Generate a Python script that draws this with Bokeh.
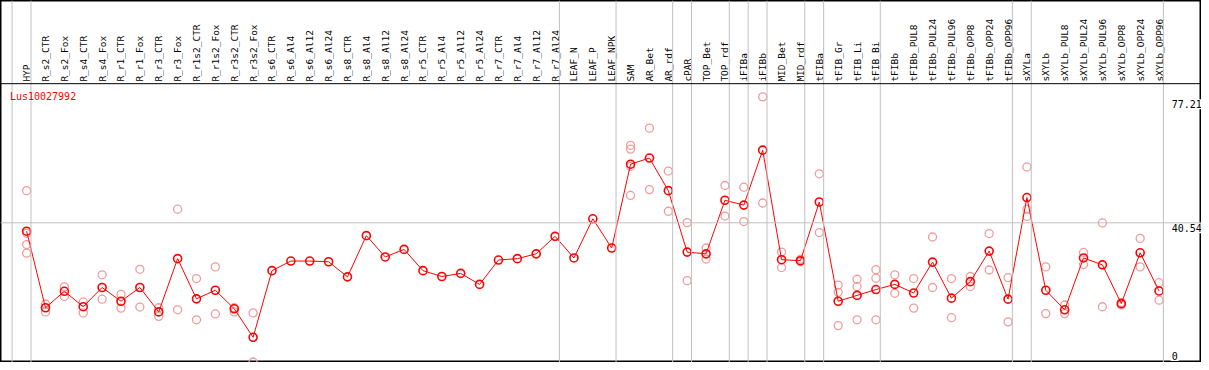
import math
from bokeh.plotting import figure
from bokeh.models import Range1d, Span, Label
from bokeh.core.properties import value
from bokeh.embed import file_html
from bokeh.resources import INLINE

gene = "Lus10027992"

categories = [
    "HYP", "R_s2_CTR", "R_s2_Fox", "R_s4_CTR", "R_s4_Fox", "R_r1_CTR", "R_r1_Fox",
    "R_r3_CTR", "R_r3_Fox", "R_r1s2_CTR", "R_r1s2_Fox", "R_r3s2_CTR", "R_r3s2_Fox",
    "R_s6_CTR", "R_s6_Al4", "R_s6_Al12", "R_s6_Al24", "R_s8_CTR", "R_s8_Al4",
    "R_s8_Al12", "R_s8_Al24", "R_r5_CTR", "R_r5_Al4", "R_r5_Al12", "R_r5_Al24",
    "R_r7_CTR", "R_r7_Al4", "R_r7_Al12", "R_r7_Al24", "LEAF_N", "LEAF_P", "LEAF_NPK",
    "SAM", "AR_Bet", "AR_rdf", "cPAR", "TOP_Bet", "TOP_rdf", "iFIBa", "iFIBb",
    "MID_Bet", "MID_rdf", "tFIBa", "tFIB_Gr", "tFIB_Li", "tFIB_Bi", "tFIBb",
    "tFIBb_PUL8", "tFIBb_PUL24", "tFIBb_PUL96", "tFIBb_OPP8", "tFIBb_OPP24",
    "tFIBb_OPP96", "sXYLa", "sXYLb", "sXYLb_PUL8", "sXYLb_PUL24", "sXYLb_PUL96",
    "sXYLb_OPP8", "sXYLb_OPP24", "sXYLb_OPP96",
]

# number of categories in each separated group (left to right)
group_sizes = [1, 28, 3, 3, 1, 2, 1, 1, 2, 1, 3, 7, 1, 7]

mean_values = [
    38.1, 15.8, 20.6, 16.1, 21.7, 17.7, 21.7, 14.6, 30.1, 18.4, 20.9, 15.5, 7.2,
    26.6, 29.4, 29.4, 29.2, 24.8, 36.8, 30.6, 32.8, 26.6, 24.9, 25.8, 22.6,
    29.7, 30.1, 31.5, 36.6, 30.3, 41.7, 33.2,
    57.6, 59.4, 49.9, 32.0, 31.5, 47.1, 45.7, 61.7, 29.8, 29.5, 46.6,
    17.7, 19.4, 21.1, 22.6, 20.1, 29.1, 18.6, 23.4, 32.3, 18.3,
    47.9, 20.9, 15.2, 30.3, 28.3, 17.0, 31.8, 20.7,
]

replicate_values = [
    [49.9, 37.5, 34.2, 31.7],
    [16.9, 14.6], [21.9, 19.1], [17.5, 14.3], [25.4, 18.3], [19.7, 15.7],
    [27.0, 16.0], [15.8, 13.3], [44.5, 15.2], [24.3, 12.3], [27.7, 14.0],
    [15.8, 14.6], [14.3, 0.0],
    [], [], [], [], [], [], [], [], [], [], [], [], [], [], [], [],
    [], [], [],
    [63.1, 62.0, 57.0, 48.5], [68.1, 50.2], [55.6, 43.9], [40.6, 23.7],
    [33.2, 30.0], [51.4, 42.5], [50.9, 40.9], [77.21, 46.3],
    [32.0, 27.5], [29.9, 29.2], [54.8, 37.7],
    [22.4, 20.3, 10.6], [24.1, 22.0, 12.3], [26.9, 24.4, 12.3],
    [25.4, 20.0], [24.3, 15.7], [36.4, 21.7], [24.3, 12.9], [24.9, 22.0],
    [37.4, 26.8], [24.6, 11.7],
    [56.8, 44.5, 42.4], [27.7, 14.1], [16.6, 14.1], [31.9, 28.4], [40.5, 16.1],
    [17.3, 16.6], [36.0, 27.7], [23.1, 18.0],
]

tick_values = [0, 40.54, 77.21]
tick_labels = ["0", "40.54", "77.21"]

# ---------------------------------------------------------------
n = len(categories)
idx = list(range(n))
rep_x = [i for i, reps in enumerate(replicate_values) for _ in reps]
rep_y = [v for reps in replicate_values for v in reps]

X0, X1 = -1.384, 62.25
Y0, Y1 = -0.14, 105.27
HEADER_Y = 81.05   # value at which the label header starts

p = figure(width=1201, height=362, x_range=Range1d(X0, X1), y_range=Range1d(Y0, Y1),
           output_backend="svg", toolbar_location=None, min_border=0,
           x_axis_location=None, y_axis_location=None)
p.grid.visible = False
p.outline_line_color = "black"
p.outline_line_width = 2
p.background_fill_color = "white"

grid_col = "#c0c0c0"
# group separators
bounds = [-1]
acc = -1
for g in group_sizes:
    acc += g
    bounds.append(acc)
for b in bounds:
    p.add_layout(Span(location=b + 0.23, dimension="height", line_color=grid_col, line_width=1))

# horizontal reference line
p.add_layout(Span(location=tick_values[1], dimension="width", line_color=grid_col, line_width=1))
# header separator
p.add_layout(Span(location=HEADER_Y, dimension="width", line_color="black", line_width=1))

mono = value("DejaVu Sans Mono")

# header labels
p.text(x=idx, y=[HEADER_Y + 0.6] * n, text=categories, angle=math.pi / 2,
       text_align="left", text_baseline="middle", text_font=mono,
       text_font_size="9.5px", text_color="black")

# replicates
p.scatter(rep_x, rep_y, marker="circle", size=8, fill_color=None,
          line_color="#f29b9b", line_width=1.3)
# mean line + points
p.line(idx, mean_values, line_color="red", line_width=1)
p.scatter(idx, mean_values, marker="circle", size=8, fill_color=None,
          line_color="red", line_width=1.6)

# title
p.add_layout(Label(x=X0 + 0.5, y=HEADER_Y - 2.0, text=gene, text_color="red",
                   text_font="DejaVu Sans Mono", text_font_size="10px",
                   text_baseline="top", text_align="left"))

# tick labels on right
lab_x = n - 1 + 0.62
offsets = {0: -1, 40.54: 0.5, 77.21: 2.5}
for v, t in zip(tick_values, tick_labels):
    base = "bottom" if v == 0 else "top"
    p.text(x=[lab_x], y=[v], text=[t], text_align="left", text_baseline=base,
           y_offset=offsets[v], text_font=mono, text_font_size="10px",
           text_color="black", background_fill_color="white", padding=1)

open("out.html", "w").write(file_html(p, INLINE))
